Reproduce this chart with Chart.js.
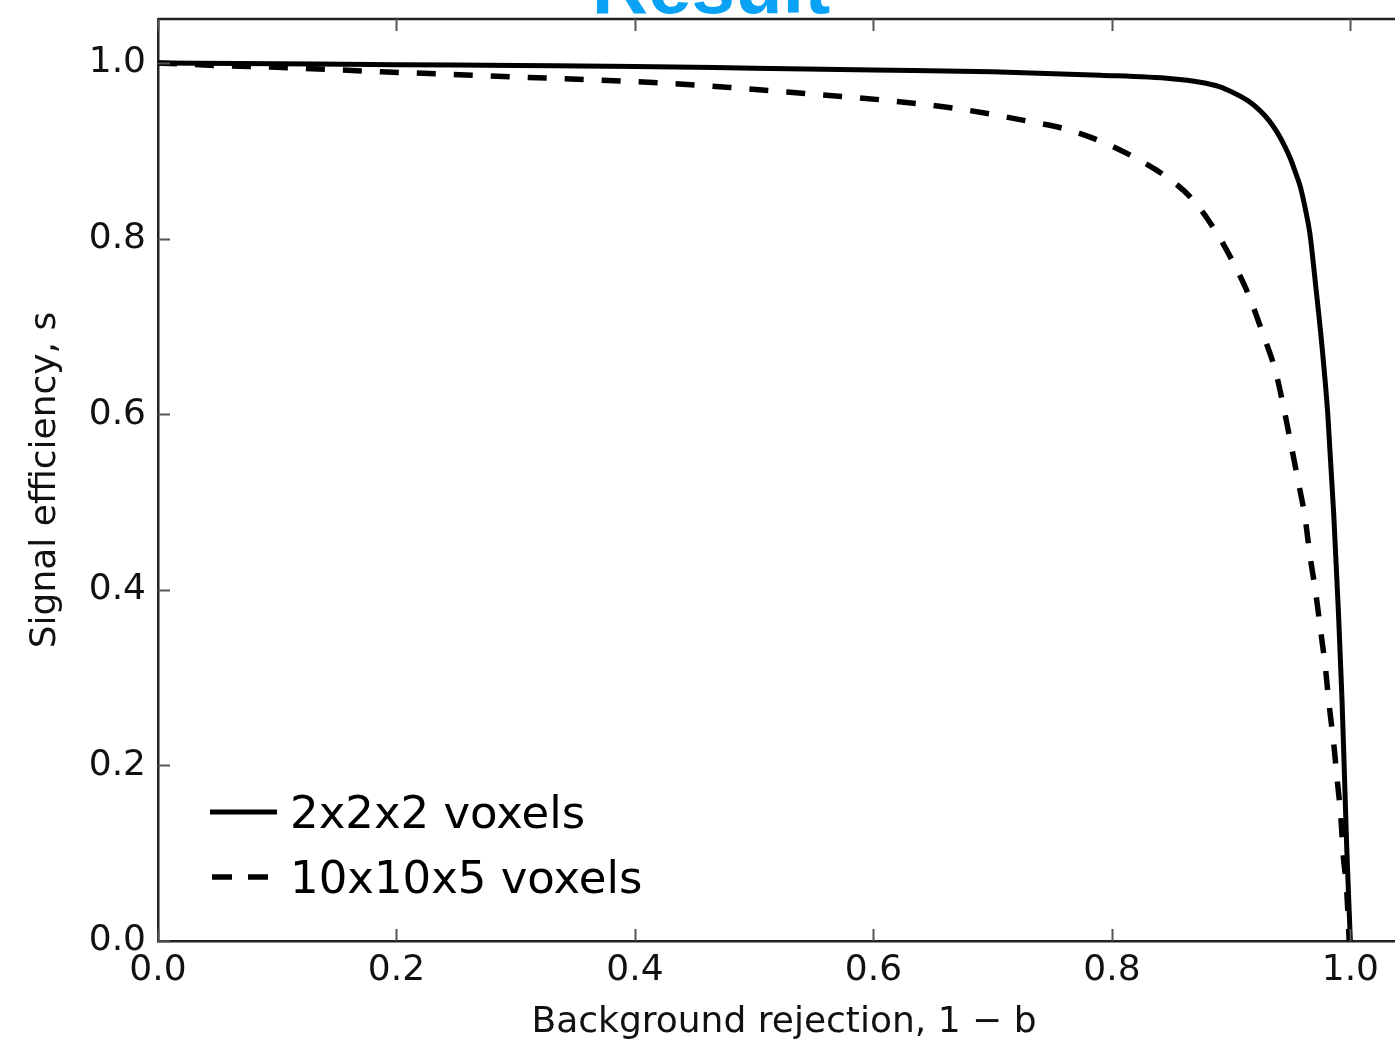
<!DOCTYPE html>
<html>
<head>
<meta charset="utf-8">
<script src="https://cdn.jsdelivr.net/npm/chart.js@4/dist/chart.umd.min.js"></script>
<style>
html,body{margin:0;padding:0;background:#fff;overflow:hidden;width:1395px;height:1049px;}
#wrap{position:absolute;left:0;top:0;width:1410px;height:1049px;}
</style>
</head>
<body>
<div id="wrap"><canvas id="c" width="1410" height="1049"></canvas></div>
<script>
// ---- data ----
const chartTitle = 'Result';
const seriesLabels = ['2x2x2 voxels', '10x10x5 voxels'];
const xTicks = [0.0, 0.2, 0.4, 0.6, 0.8, 1.0];
const yTicks = [0.0, 0.2, 0.4, 0.6, 0.8, 1.0];
const xTitle = 'Background rejection, 1 \u2212 b';
const yTitle = 'Signal efficiency, s';

const solidX = [0, 0.1, 0.2, 0.3, 0.4, 0.5, 0.6, 0.7, 0.79, 0.85, 0.874, 0.89, 0.902, 0.914, 0.924, 0.932, 0.939, 0.945, 0.950, 0.954, 0.958, 0.962, 0.966, 0.971, 0.976, 0.981, 0.986, 0.990, 0.993, 0.995, 0.997, 1.0];
const solidY = [1.0, 0.999, 0.998, 0.997, 0.996, 0.994, 0.992, 0.990, 0.986, 0.982, 0.978, 0.973, 0.966, 0.957, 0.946, 0.934, 0.920, 0.905, 0.890, 0.875, 0.859, 0.835, 0.806, 0.745, 0.68, 0.601, 0.487, 0.374, 0.274, 0.19, 0.104, 0.0];

const dashedX = [0, 0.05, 0.1, 0.187, 0.3, 0.419, 0.48, 0.544, 0.606, 0.670, 0.732, 0.763, 0.792, 0.818, 0.846, 0.868, 0.888, 0.902, 0.914, 0.927, 0.937, 0.944, 0.950, 0.956, 0.962, 0.966, 0.971, 0.975, 0.979, 0.982, 0.986, 0.989, 0.992, 0.994, 0.997, 0.999];
const dashedY = [1.0, 0.997, 0.995, 0.990, 0.984, 0.9775, 0.972, 0.965, 0.958, 0.948, 0.933, 0.924, 0.910, 0.893, 0.870, 0.844, 0.806, 0.772, 0.738, 0.690, 0.650, 0.608, 0.567, 0.525, 0.482, 0.440, 0.396, 0.354, 0.312, 0.271, 0.225, 0.183, 0.141, 0.098, 0.056, 0.0];

const toPts = (xs, ys) => xs.map((x, i) => ({x: x, y: ys[i]}));

const FONT = "'DejaVu Sans', sans-serif";

// inner ticks, top frame, legend and cut-off title
const decor = {
  id: 'decor',
  afterDraw(chart) {
    const ctx = chart.ctx;
    const a = chart.chartArea;
    const xs = chart.scales.x, ys = chart.scales.y;
    ctx.save();
    // top & right frame
    ctx.strokeStyle = '#222';
    ctx.lineWidth = 2.5;
    ctx.beginPath();
    ctx.moveTo(a.left, a.top); ctx.lineTo(a.right, a.top); ctx.lineTo(a.right, a.bottom);
    ctx.stroke();
    // inward ticks
    ctx.strokeStyle = '#555';
    ctx.lineWidth = 2;
    const L = 12;
    xs.ticks.forEach(t => {
      const p = Math.round(xs.getPixelForValue(t.value)) + 0.5;
      ctx.beginPath();
      ctx.moveTo(p, a.bottom); ctx.lineTo(p, a.bottom - L);
      ctx.moveTo(p, a.top); ctx.lineTo(p, a.top + L);
      ctx.stroke();
    });
    ys.ticks.forEach(t => {
      const p = Math.round(ys.getPixelForValue(t.value)) + 0.5;
      ctx.beginPath();
      ctx.moveTo(a.left, p); ctx.lineTo(a.left + L, p);
      ctx.moveTo(a.right, p); ctx.lineTo(a.right - L, p);
      ctx.stroke();
    });
    // legend
    const ds = chart.data.datasets;
    const rows = [828, 893];
    ctx.font = '45px ' + FONT;
    ctx.textBaseline = 'alphabetic';
    ctx.textAlign = 'left';
    ds.forEach((d, i) => {
      const yl = rows[i] - 16;
      ctx.strokeStyle = d.borderColor;
      ctx.lineWidth = d.borderWidth;
      ctx.lineCap = 'butt';
      ctx.setLineDash(d.borderDash && d.borderDash.length ? [20, 16] : []);
      ctx.beginPath();
      ctx.moveTo(i === 0 ? 210 : 212, yl);
      ctx.lineTo(i === 0 ? 277 : 270, yl);
      ctx.stroke();
      ctx.setLineDash([]);
      ctx.fillStyle = '#000';
      ctx.fillText(d.label, 290, rows[i]);
    });
    // title (cut off at top edge)
    ctx.fillStyle = '#0aa2f5';
    ctx.font = "bold 78px 'Liberation Sans', Arial, sans-serif";
    ctx.textAlign = 'center';
    ctx.textBaseline = 'alphabetic';
    ctx.fillText(chartTitle, 711, 13);
    ctx.restore();
  }
};

new Chart(document.getElementById('c'), {
  type: 'line',
  data: {
    datasets: [
      {
        label: seriesLabels[0],
        data: toPts(solidX, solidY),
        borderColor: '#000',
        borderWidth: 5,
        pointRadius: 0,
        fill: false,
        cubicInterpolationMode: 'monotone'
      },
      {
        label: seriesLabels[1],
        data: toPts(dashedX, dashedY),
        borderColor: '#000',
        borderWidth: 5.5,
        borderDash: [19, 18],
        borderCapStyle: 'butt',
        pointRadius: 0,
        fill: false,
        cubicInterpolationMode: 'monotone'
      }
    ]
  },
  options: {
    responsive: false,
    animation: false,
    layout: {padding: {top: 19, left: 0, right: 0, bottom: 0}},
    plugins: {legend: {display: false}, tooltip: {enabled: false}, title: {display: false}},
    scales: {
      x: {
        type: 'linear',
        min: 0, max: 1.05,
        afterBuildTicks: s => { s.ticks = xTicks.map(v => ({value: v})); },
        afterFit: s => { s.height = 108; s.paddingLeft = 0; s.paddingRight = 0; },
        grid: {display: false, drawTicks: false},
        border: {display: true, color: '#222', width: 2.5},
        ticks: {
          padding: 8, color: '#111', maxRotation: 0,
          font: {family: FONT, size: 36},
          callback: v => Number(v).toFixed(1)
        },
        title: {
          display: true, text: xTitle, color: '#111',
          font: {family: FONT, size: 36},
          padding: {top: 5, bottom: 5}
        }
      },
      y: {
        type: 'linear',
        min: 0, max: 1.05,
        afterBuildTicks: s => { s.ticks = yTicks.map(v => ({value: v})); },
        afterFit: s => { s.width = 158; s.paddingTop = 0; s.paddingBottom = 0; },
        grid: {display: false, drawTicks: false},
        border: {display: true, color: '#222', width: 2.5},
        ticks: {
          padding: 12, color: '#111',
          font: {family: FONT, size: 36},
          callback: v => Number(v).toFixed(1)
        },
        title: {
          display: true, text: yTitle, color: '#111',
          font: {family: FONT, size: 36},
          padding: {top: 24, bottom: 0}
        }
      }
    }
  },
  plugins: [decor]
});
</script>
</body>
</html>
